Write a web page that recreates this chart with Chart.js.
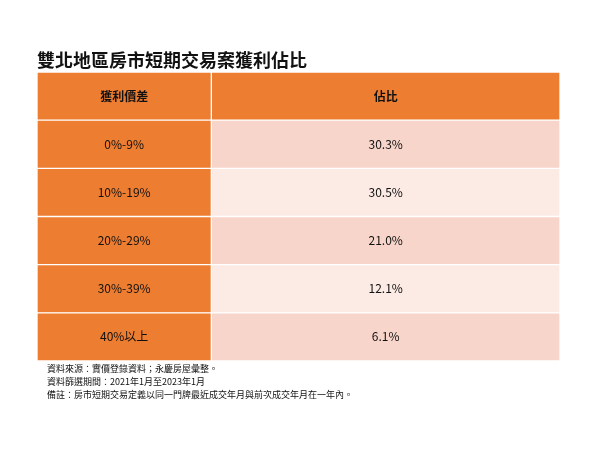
<!DOCTYPE html>
<html><head><meta charset="utf-8">
<script src="https://cdn.jsdelivr.net/npm/chart.js@4/dist/chart.umd.min.js"></script>
<style>body{margin:0;background:#fff}#wrap{width:600px;height:450px;position:relative}</style>
</head><body><div id="wrap"><canvas id="c"></canvas></div>
<script>
// 表格內容
const rowLabels = ['獲利價差', '0%-9%', '10%-19%', '20%-29%', '30%-39%', '40%以上'];
const shareText = ['佔比', '30.3%', '30.5%', '21.0%', '12.1%', '6.1%'];
const orange = '#ED7D31';
const rightColors = [orange, '#F8D5CA', '#FCEAE4', '#F8D5CA', '#FCEAE4', '#F8D5CA'];
const notes = ['資料來源：實價登錄資料；永慶房屋彙整。', '資料篩選期間：2021年1月至2023年1月', '備註：房市短期交易定義以同一門牌最近成交年月與前次成交年月在一年內。'];
const font = '"Noto Sans CJK TC", "Noto Sans", sans-serif';

const cellText = {
  id: 'cellText',
  afterDatasetsDraw(chart) {
    const ctx = chart.ctx;
    const x = chart.scales.x, y = chart.scales.y;
    ctx.save();
    ctx.fillStyle = '#111';
    ctx.textAlign = 'center';
    ctx.textBaseline = 'middle';
    rowLabels.forEach((l, i) => {
      ctx.font = (i === 0 ? '600 ' : '') + '12px ' + font;
      ctx.fillText(l, x.getPixelForValue(0.5), y.getPixelForValue(i));
      ctx.fillText(shareText[i], x.getPixelForValue(2), y.getPixelForValue(i));
    });
    ctx.textAlign = 'left';
    ctx.font = 'bold 18px ' + font;
    ctx.fillText('雙北地區房市短期交易案獲利佔比', 37, 60);
    ctx.font = '9px ' + font;
    notes.forEach((n, i) => ctx.fillText(n, 47, 369 + i * 13));
    ctx.restore();
  }
};

new Chart(document.getElementById('c'), {
  type: 'bar',
  data: {
    labels: rowLabels,
    datasets: [{
      data: rowLabels.map(() => [0, 1]),
      backgroundColor: orange,
      borderColor: '#fff', borderWidth: 1, borderSkipped: false,
      grouped: false, barPercentage: 1, categoryPercentage: 1
    }, {
      data: rowLabels.map(() => [1, 3]),
      backgroundColor: rightColors,
      borderColor: '#fff', borderWidth: 1, borderSkipped: false,
      grouped: false, barPercentage: 1, categoryPercentage: 1
    }]
  },
  options: {
    indexAxis: 'y',
    responsive: true,
    maintainAspectRatio: false,
    animation: false,
    layout: { padding: { left: 37, right: 40, top: 72, bottom: 89 } },
    scales: {
      x: { display: false, min: 0, max: 3 },
      y: { display: false }
    },
    plugins: { legend: { display: false }, tooltip: { enabled: false } }
  },
  plugins: [cellText]
});
</script></body></html>
